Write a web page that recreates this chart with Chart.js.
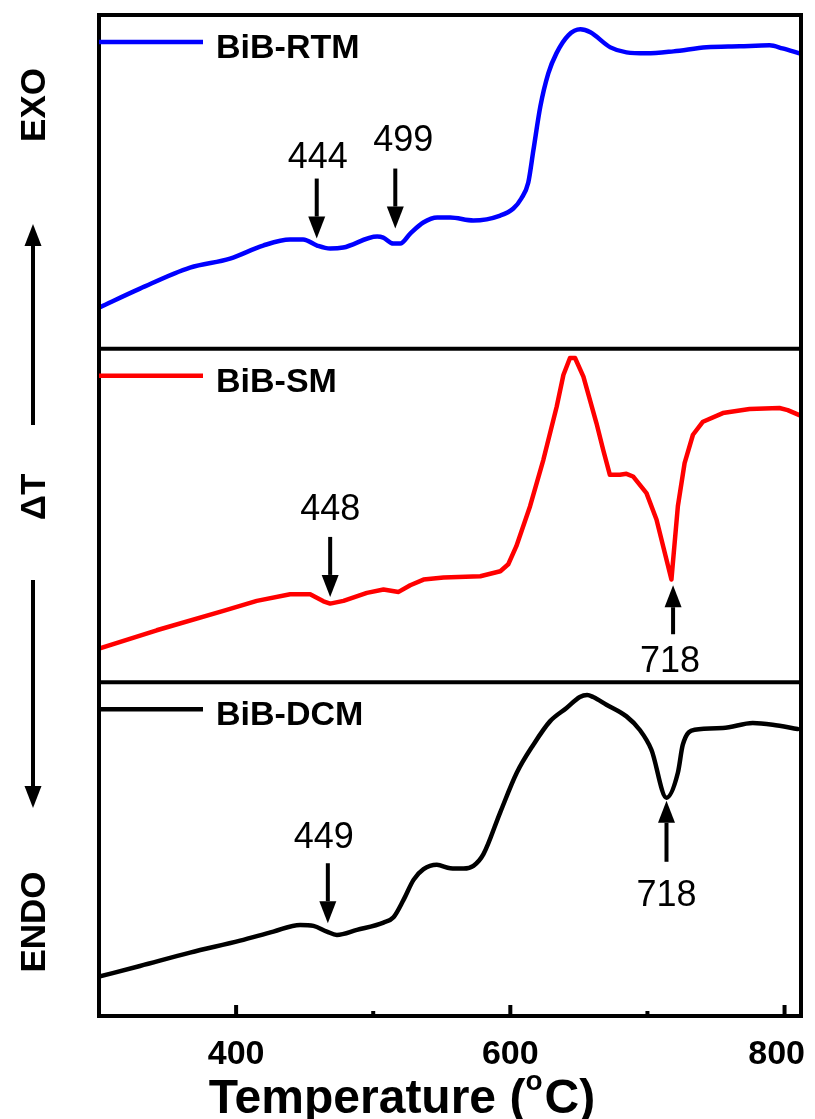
<!DOCTYPE html>
<html>
<head>
<meta charset="utf-8">
<script src="https://cdn.jsdelivr.net/npm/chart.js@4.4.0/dist/chart.umd.min.js"></script>
<style>
html, body { margin: 0; padding: 0; background: #fff; }
#wrap { position: relative; width: 815px; height: 1119px; }
</style>
</head>
<body>
<div id="wrap"><canvas id="dtaChart"></canvas></div>
<script>
// DTA curves, temperature in °C, signal in relative units (0-100 per panel)
const rtmTemp = [300, 329.9, 366.4, 395.6, 419.7, 439.4, 448.9, 459.1, 468.6, 478.1, 502.9, 507.3, 514.6, 519.7, 527.0, 536.5, 546.7, 556.2, 573.0, 592.7, 602.2, 608.0, 613.1, 616.8, 621.9, 627.7, 633.6, 642.3, 651.1, 658.4, 673.0, 684.7, 699.3, 719.0, 743.1, 767.2, 789.1, 798.5, 810.9];
const rtmSignal = [12.3, 18.0, 24.3, 27.0, 30.9, 32.7, 32.7, 30.9, 30.0, 30.3, 33.6, 33.3, 31.5, 31.5, 34.5, 37.8, 39.3, 39.3, 38.4, 39.9, 42.0, 45.0, 49.8, 59.4, 72.6, 82.5, 88.5, 93.9, 95.7, 94.8, 90.3, 88.8, 88.5, 89.1, 90.3, 90.6, 90.9, 90.0, 88.5];

const smTemp = [300, 342.1, 390.7, 415.1, 439.4, 454.0, 463.7, 468.6, 478.3, 495.4, 507.5, 518.5, 527.0, 536.7, 551.3, 578.1, 592.7, 598.5, 604.4, 614.4, 624.1, 633.8, 638.7, 643.5, 647.2, 653.3, 662.8, 667.7, 672.6, 679.9, 684.7, 689.5, 699.3, 706.6, 717.5, 722.2, 727.1, 733.2, 740.5, 755.0, 774.5, 796.3, 802.3, 810.8];
const smSignal = [10.1, 15.6, 21.4, 24.4, 26.4, 26.4, 24.3, 23.6, 24.4, 26.8, 27.8, 27.1, 29.1, 30.8, 31.4, 31.8, 33.3, 35.4, 40.8, 52.8, 66.7, 82.6, 92.1, 97.2, 97.2, 91.6, 77.7, 69.7, 62.2, 62.2, 62.5, 61.7, 56.7, 48.8, 30.8, 52.8, 65.7, 74.2, 78.1, 80.7, 81.9, 82.2, 81.6, 80.1];

const dcmTemp = [300, 329.9, 366.4, 402.9, 427.2, 446.7, 456.4, 466.2, 473.5, 488.1, 507.5, 514.8, 522.1, 529.4, 536.7, 546.4, 556.2, 565.9, 573.1, 580.4, 592.5, 604.7, 616.8, 628.9, 641.0, 650.7, 656.0, 660.4, 670.1, 684.7, 694.3, 702.9, 713.9, 722.2, 725.8, 734.4, 755.0, 776.8, 791.3, 809.5];
const dcmSignal = [11.8, 15.0, 19.0, 22.6, 25.3, 27.3, 27.0, 25.3, 24.3, 25.8, 28.0, 29.6, 34.8, 40.8, 44.0, 45.3, 44.3, 44.2, 45.0, 48.5, 60.9, 72.9, 81.3, 88.3, 92.3, 95.6, 96.2, 95.6, 93.3, 89.8, 85.8, 79.8, 65.4, 72.9, 81.3, 85.8, 86.3, 87.8, 87.3, 86.0];

const seriesNames = ['BiB-RTM', 'BiB-SM', 'BiB-DCM'];
const xMajorTicks = [400, 600, 800];
const xMinorTicks = [500, 700];

// peak markers: panel, temperature at the arrow, signal at the arrow tip, label
const markPanels = ['yRTM', 'yRTM', 'ySM', 'ySM', 'yDCM', 'yDCM'];
const markTemps = [458.8, 516.1, 468.6, 718.7, 466.9, 713.9];
const markSignals = [33.0, 36.0, 25.6, 29.1, 27.8, 64.5];
const markDirections = ['down', 'down', 'down', 'up', 'down', 'up'];
const markLabels = ['444', '499', '448', '718', '449', '718'];
// marker drawing geometry (px)
const markArrowLengths = [60, 60, 60, 49, 60, 61];
const markLabelGaps = [11, 18, 17, 38, 15, 44];
const markLabelShifts = [1, 8, 0, -3, -4, 0];

const FONT = '"Liberation Sans", Arial, Helvetica, sans-serif';

function toPoints(xs, ys) {
    return xs.map((x, i) => ({ x: x, y: ys[i] }));
}

function drawArrow(ctx, x, yTail, yTip) {
    const dir = yTip > yTail ? 1 : -1;
    const headLen = 22, headHalf = 8.5;
    ctx.beginPath();
    ctx.moveTo(x, yTail);
    ctx.lineTo(x, yTip - dir * headLen);
    ctx.stroke();
    ctx.beginPath();
    ctx.moveTo(x, yTip);
    ctx.lineTo(x - headHalf, yTip - dir * headLen);
    ctx.lineTo(x + headHalf, yTip - dir * headLen);
    ctx.closePath();
    ctx.fill();
}

const framePlugin = {
    id: 'dtaFrame',
    afterDraw(chart) {
        const ctx = chart.ctx;
        const area = chart.chartArea;
        const xScale = chart.scales.x;
        ctx.save();
        ctx.strokeStyle = '#000';
        ctx.fillStyle = '#000';
        ctx.lineWidth = 4;
        ctx.lineCap = 'butt';

        // outer box + panel dividers
        ctx.strokeRect(area.left, area.top, area.right - area.left, area.bottom - area.top);
        ['yRTM', 'ySM'].forEach(id => {
            const y = chart.scales[id].bottom;
            ctx.beginPath();
            ctx.moveTo(area.left, y);
            ctx.lineTo(area.right, y);
            ctx.stroke();
        });

        // inward ticks on the bottom axis + labels
        ctx.font = 'bold 34px ' + FONT;
        ctx.textAlign = 'center';
        ctx.textBaseline = 'alphabetic';
        xMajorTicks.forEach(v => {
            const x = xScale.getPixelForValue(v);
            ctx.beginPath();
            ctx.moveTo(x, area.bottom);
            ctx.lineTo(x, area.bottom - 11);
            ctx.stroke();
            const half = ctx.measureText(String(v)).width / 2;
            const lxPos = Math.min(x, area.right + 4 - half);
            ctx.fillText(String(v), lxPos, area.bottom + 48);
        });
        xMinorTicks.forEach(v => {
            const x = xScale.getPixelForValue(v);
            ctx.beginPath();
            ctx.moveTo(x, area.bottom);
            ctx.lineTo(x, area.bottom - 5);
            ctx.stroke();
        });

        // legend inside each panel
        ['yRTM', 'ySM', 'yDCM'].forEach((id, i) => {
            const top = chart.scales[id].top;
            const ly = top + 27;
            ctx.strokeStyle = chart.data.datasets[i].borderColor;
            ctx.lineWidth = 4.5;
            ctx.beginPath();
            ctx.moveTo(area.left, ly);
            ctx.lineTo(area.left + 104, ly);
            ctx.stroke();
            ctx.fillStyle = '#000';
            ctx.font = 'bold 34px ' + FONT;
            ctx.textAlign = 'left';
            ctx.textBaseline = 'alphabetic';
            ctx.fillText(seriesNames[i], area.left + 117, ly + 16);
        });

        // peak markers
        ctx.strokeStyle = '#000';
        ctx.fillStyle = '#000';
        ctx.lineWidth = 4;
        ctx.font = '36px ' + FONT;
        ctx.textAlign = 'center';
        ctx.textBaseline = 'alphabetic';
        markTemps.forEach((t, i) => {
            const x = xScale.getPixelForValue(t);
            const yTip = chart.scales[markPanels[i]].getPixelForValue(markSignals[i]);
            const len = markArrowLengths[i];
            const tx = x + markLabelShifts[i];
            if (markDirections[i] === 'down') {
                const yTail = yTip - len;
                drawArrow(ctx, x, yTail, yTip);
                ctx.fillText(markLabels[i], tx, yTail - markLabelGaps[i]);
            } else {
                const yTail = yTip + len;
                drawArrow(ctx, x, yTail, yTip);
                ctx.fillText(markLabels[i], tx, yTail + markLabelGaps[i]);
            }
        });

        // left side: EXO <- ΔT -> ENDO
        const lx = 33;
        ctx.font = 'bold 35px ' + FONT;
        ctx.textBaseline = 'middle';
        [['EXO', 105], ['\u0394T', 497], ['ENDO', 922]].forEach(([txt, cy]) => {
            ctx.save();
            ctx.translate(lx + 2, cy);
            ctx.rotate(-Math.PI / 2);
            ctx.fillText(txt, 0, 0);
            ctx.restore();
        });
        drawArrow(ctx, lx, 425, 224);
        drawArrow(ctx, lx, 580, 808);

        // x axis title with raised degree "o"
        const ty = 1113;
        const part1 = 'Temperature (';
        const part3 = 'C)';
        ctx.font = 'bold 48px ' + FONT;
        const w1 = ctx.measureText(part1).width;
        const w3 = ctx.measureText(part3).width;
        ctx.font = 'bold 28px ' + FONT;
        const w2 = ctx.measureText('o').width + 2;
        const cx = 402;
        const sx = cx - (w1 + w2 + w3) / 2;
        ctx.textAlign = 'left';
        ctx.textBaseline = 'alphabetic';
        ctx.font = 'bold 48px ' + FONT;
        ctx.fillText(part1, sx, ty);
        ctx.font = 'bold 28px ' + FONT;
        ctx.fillText('o', sx + w1, ty - 23);
        ctx.font = 'bold 48px ' + FONT;
        ctx.fillText(part3, sx + w1 + w2, ty);

        ctx.restore();
    }
};

const hiddenY = {
    type: 'linear',
    position: 'left',
    stack: 'dta',
    stackWeight: 1,
    min: 0,
    max: 100,
    grid: { display: false, drawTicks: false },
    border: { display: false },
    ticks: { display: false }
};

new Chart(document.getElementById('dtaChart').getContext('2d'), {
    type: 'line',
    data: {
        datasets: [
            { label: seriesNames[0], data: toPoints(rtmTemp, rtmSignal), yAxisID: 'yRTM', borderColor: '#0000ff', cubicInterpolationMode: 'monotone' },
            { label: seriesNames[1], data: toPoints(smTemp, smSignal), yAxisID: 'ySM', borderColor: '#ff0000', tension: 0 },
            { label: seriesNames[2], data: toPoints(dcmTemp, dcmSignal), yAxisID: 'yDCM', borderColor: '#000000', cubicInterpolationMode: 'monotone' }
        ]
    },
    options: {
        responsive: true,
        maintainAspectRatio: false,
        animation: false,
        layout: { padding: { left: 99, right: 14, top: 15, bottom: 103 } },
        elements: {
            point: { radius: 0 },
            line: { borderWidth: 4.5, fill: false, borderJoinStyle: 'round', borderCapStyle: 'round' }
        },
        plugins: {
            legend: { display: false },
            tooltip: { enabled: false }
        },
        scales: {
            x: {
                type: 'linear',
                min: 300,
                max: 812,
                grid: { display: false, drawTicks: false },
                border: { display: false },
                ticks: { display: false }
            },
            // last stacked scale sits on top
            yDCM: { ...hiddenY },
            ySM: { ...hiddenY },
            yRTM: { ...hiddenY }
        }
    },
    plugins: [framePlugin]
});
</script>
</body>
</html>
